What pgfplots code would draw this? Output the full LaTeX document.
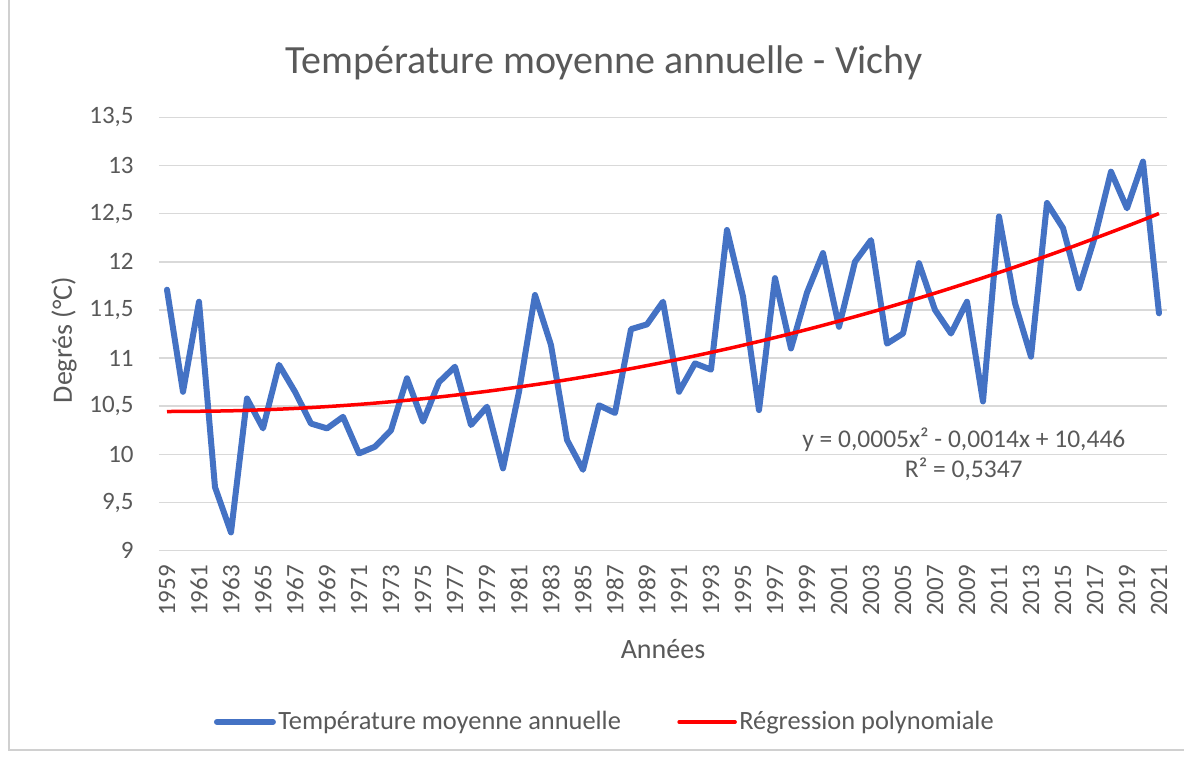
\documentclass[border=0pt]{standalone}
\usepackage{fontspec}
\setmainfont{Carlito}
\usepackage{pgfplots}
\pgfplotsset{compat=1.18}
\definecolor{txt}{HTML}{595959}
\definecolor{grd}{HTML}{D9D9D9}
\definecolor{blu}{HTML}{4472C4}
\definecolor{frm}{HTML}{D0D0D0}
\begin{document}
\begin{tikzpicture}
\begin{axis}[
  at={(79.5pt,104.65pt)}, anchor=south west,
  scale only axis, width=504pt, height=216.7pt,
  xmin=1958.5, xmax=2021.5, ymin=9, ymax=13.5,
  xtick={1959,1961,...,2021},
  ytick={9,9.5,10,10.5,11,11.5,12,12.5,13,13.5},
  ymajorgrids, grid style={grd, line width=0.75pt},
  axis line style={draw=none},
  major tick length=0pt,
  /pgf/number format/.cd, use comma, 1000 sep={}, assume math mode=true,
  /pgfplots/.cd,
  ticklabel style={font=\fontsize{12.5}{15}\selectfont, text=txt},
  yticklabel style={/pgf/number format/fixed, /pgf/number format/precision=1, inner sep=0pt},
  yticklabel shift=12.5pt,
  xticklabel style={rotate=90, anchor=east, inner sep=0pt},
  xticklabel shift=7pt,
  legend style={at={(0.4425,-0.395)}, anchor=center, draw=none, fill=none,
    font=\fontsize{13.2}{15}\selectfont, text=txt,
    nodes={inner xsep=1.2pt},
    /tikz/every even column/.append style={column sep=27pt}},
  legend columns=2,
  legend image code/.code={\draw[#1, line cap=round] (0pt,0pt) -- (28pt,0pt);},
]
\addplot[blu, line width=3pt, line join=round, line cap=round] coordinates {
(1959,11.71) (1960,10.65) (1961,11.585) (1962,9.66) (1963,9.19) (1964,10.58)
(1965,10.27) (1966,10.93) (1967,10.65) (1968,10.32) (1969,10.27) (1970,10.39)
(1971,10.01) (1972,10.08) (1973,10.25) (1974,10.79) (1975,10.34) (1976,10.75)
(1977,10.91) (1978,10.305) (1979,10.495) (1980,9.855) (1981,10.65) (1982,11.655)
(1983,11.135) (1984,10.15) (1985,9.84) (1986,10.51) (1987,10.43) (1988,11.30)
(1989,11.35) (1990,11.585) (1991,10.65) (1992,10.945) (1993,10.88) (1994,12.33)
(1995,11.64) (1996,10.46) (1997,11.83) (1998,11.10) (1999,11.68) (2000,12.09)
(2001,11.325) (2002,12.0) (2003,12.225) (2004,11.15) (2005,11.255) (2006,11.985)
(2007,11.50) (2008,11.255) (2009,11.585) (2010,10.55) (2011,12.47) (2012,11.57)
(2013,11.015) (2014,12.61) (2015,12.35) (2016,11.725) (2017,12.26) (2018,12.935)
(2019,12.555) (2020,13.04) (2021,11.465)
};
\addlegendentry{Température moyenne annuelle}
\addplot[red, line width=1.75pt, smooth] coordinates {
(1959,10.445) (1963,10.4525) (1967,10.477) (1971,10.519) (1975,10.578)
(1979,10.655) (1983,10.7485) (1987,10.8595) (1991,10.988) (1995,11.1335)
(1999,11.2963) (2003,11.4765) (2007,11.674) (2011,11.8887) (2015,12.1207)
(2019,12.370) (2021,12.501)
};
\addlegendentry{Régression polynomiale}
\node[align=center, text=txt, font=\fontsize{12.75}{15}\selectfont] at (axis cs:2008.8,10.0)
  {y = 0,0005x² - 0,0014x + 10,446\\R² = 0,5347};
\end{axis}
\node[anchor=base, text=txt, font=\fontsize{20}{24}\selectfont] at (302pt,343pt) {Température moyenne annuelle - Vichy};
\node[anchor=base, text=txt, font=\fontsize{14}{17}\selectfont] at (331.5pt,50.5pt) {Années};
\node[rotate=90, anchor=center, text=txt, font=\fontsize{14}{17}\selectfont] at (32pt,210pt) {Degrés (°C)};
\draw[frm, line width=0.75pt] (4.5pt,380pt) -- (4.5pt,5pt) -- (592pt,5pt);
\pgfresetboundingbox
\path (0pt,0pt) rectangle (592pt,380pt);
\end{tikzpicture}
\end{document}
